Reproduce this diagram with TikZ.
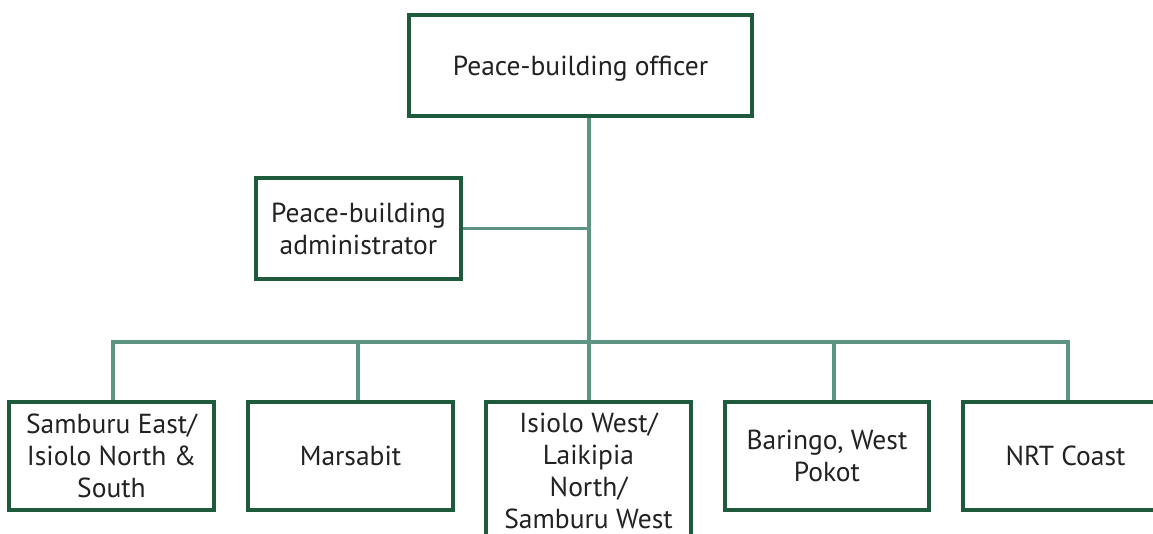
\documentclass[tikz,border=0pt]{standalone}
\usepackage{fontspec}
\setmainfont{PT Sans}
\definecolor{boxgreen}{HTML}{1E5B3C}
\definecolor{linegreen}{HTML}{5E9484}
\definecolor{txt}{HTML}{222222}
\begin{document}
\begin{tikzpicture}[x=1pt,y=-1pt,
  lbl/.style={text=txt,font=\fontsize{27.5}{32}\selectfont,align=center,inner sep=0pt},
  box/.style={lbl,draw=boxgreen,line width=2.6pt,fill=white,minimum width=203pt,minimum height=107pt},
  conn/.style={draw=linegreen,line width=3.4pt}]
\useasboundingbox (0,0) rectangle (1153,533);
\clip (0,0) rectangle (1153,533);
\coordinate (bus) at (589,342);
\coordinate (d1) at (113,342);
\coordinate (d2) at (358,342);
\coordinate (d4) at (834,342);
\coordinate (d5) at (1068,342);
\node[box,minimum width=341pt,minimum height=99pt] (top) at (580.5,65.5) {};
\node[lbl] (topt) at (580.5,68.5) {Peace-building officer};
\node[box,minimum height=99pt] (adm) at (358.5,228.5) {Peace-building\\administrator};
\node[box,anchor=north] (b1) at (111.5,401) {Samburu East/\\Isiolo North \&\\South};
\node[box,anchor=north] (b2) at (350.5,401) {Marsabit};
\node[box,anchor=north,minimum height=150pt] (b3) at (588.5,401) {};
\node[lbl,anchor=north] (b3t) at (588.5,413) {Isiolo West/\\Laikipia\\North/\\Samburu West};
\node[box,anchor=north] (b4) at (827,401) {Baringo, West\\Pokot};
\node[box,anchor=north] (b5) at (1065.5,401) {NRT Coast};
\draw[conn] (top.south -| bus) -- (b3.north -| bus);
\draw[conn] (adm.east) -- (adm.east -| bus);
\draw[conn] ([xshift=-1.7pt]d1) -- ([xshift=1.7pt]d5);
\draw[conn] (d1) -- (d1 |- b1.north);
\draw[conn] (d2) -- (d2 |- b2.north);
\draw[conn] (d4) -- (d4 |- b4.north);
\draw[conn] (d5) -- (d5 |- b5.north);
\foreach \n in {top,adm,b1,b2,b3,b4,b5}{\draw[boxgreen,line width=2.6pt] (\n.north west) rectangle (\n.south east);}
\end{tikzpicture}
\end{document}
